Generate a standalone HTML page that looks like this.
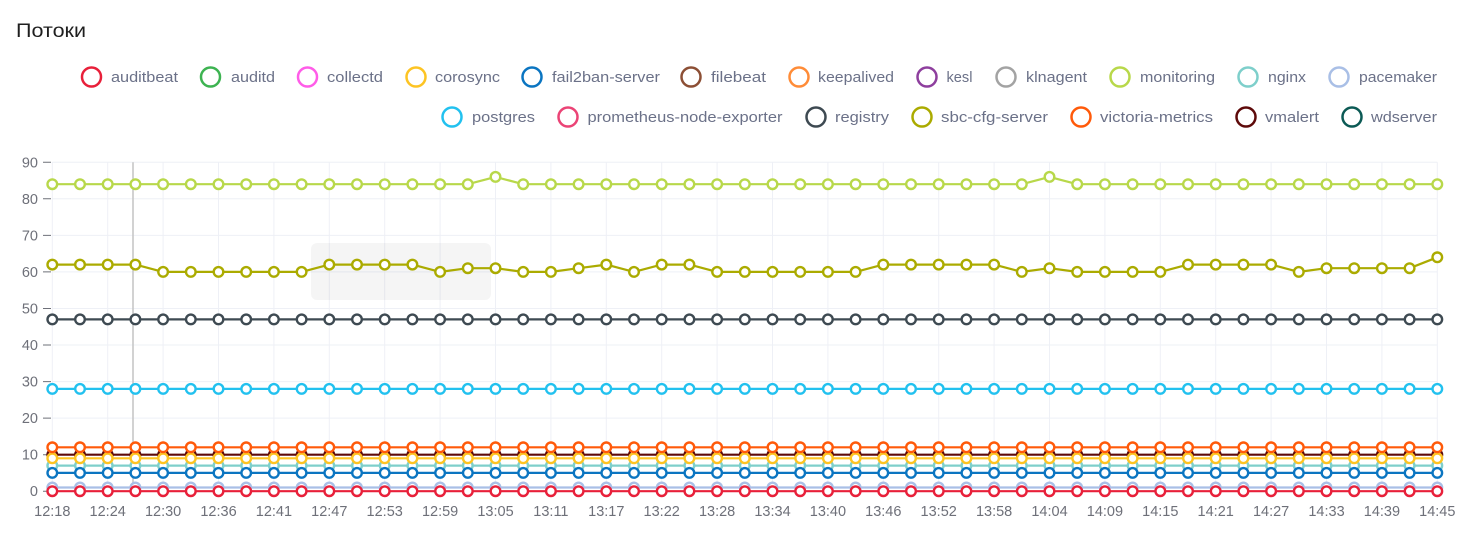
<!DOCTYPE html>
<html>
<head>
<meta charset="utf-8">
<style>
html,body{margin:0;padding:0;background:#fff;}
svg{display:block;}
text{font-family:"Liberation Sans","Noto Sans CJK SC",sans-serif;}
</style>
</head>
<body>
<svg width="1479" height="546" viewBox="0 0 1479 546" xmlns="http://www.w3.org/2000/svg">
<defs>
<marker id="m-red" markerWidth="14" markerHeight="14" refX="7" refY="7" markerUnits="userSpaceOnUse" overflow="visible"><circle cx="7" cy="7" r="4.8" fill="#fff" stroke="#e8203a" stroke-width="2.4"/></marker>
<marker id="m-pace" markerWidth="14" markerHeight="14" refX="7" refY="7" markerUnits="userSpaceOnUse" overflow="visible"><circle cx="7" cy="7" r="4.8" fill="#fff" stroke="#a9bfe6" stroke-width="2.4"/></marker>
<marker id="m-blue" markerWidth="14" markerHeight="14" refX="7" refY="7" markerUnits="userSpaceOnUse" overflow="visible"><circle cx="7" cy="7" r="4.8" fill="#fff" stroke="#0b75c1" stroke-width="2.4"/></marker>
<marker id="m-nginx" markerWidth="14" markerHeight="14" refX="7" refY="7" markerUnits="userSpaceOnUse" overflow="visible"><circle cx="7" cy="7" r="4.8" fill="#fff" stroke="#7ecfcb" stroke-width="2.4"/></marker>
<marker id="m-coro" markerWidth="14" markerHeight="14" refX="7" refY="7" markerUnits="userSpaceOnUse" overflow="visible"><circle cx="7" cy="7" r="4.8" fill="#fff" stroke="#fdc423" stroke-width="2.4"/></marker>
<marker id="m-vmal" markerWidth="14" markerHeight="14" refX="7" refY="7" markerUnits="userSpaceOnUse" overflow="visible"><circle cx="7" cy="7" r="4.8" fill="#fff" stroke="#5e0a0a" stroke-width="2.4"/></marker>
<marker id="m-vict" markerWidth="14" markerHeight="14" refX="7" refY="7" markerUnits="userSpaceOnUse" overflow="visible"><circle cx="7" cy="7" r="4.8" fill="#fff" stroke="#ff5a0a" stroke-width="2.4"/></marker>
<marker id="m-pg" markerWidth="14" markerHeight="14" refX="7" refY="7" markerUnits="userSpaceOnUse" overflow="visible"><circle cx="7" cy="7" r="4.8" fill="#fff" stroke="#22c1ef" stroke-width="2.4"/></marker>
<marker id="m-reg" markerWidth="14" markerHeight="14" refX="7" refY="7" markerUnits="userSpaceOnUse" overflow="visible"><circle cx="7" cy="7" r="4.8" fill="#fff" stroke="#3e4a52" stroke-width="2.4"/></marker>
<marker id="m-sbc" markerWidth="14" markerHeight="14" refX="7" refY="7" markerUnits="userSpaceOnUse" overflow="visible"><circle cx="7" cy="7" r="4.8" fill="#fff" stroke="#abab00" stroke-width="2.4"/></marker>
<marker id="m-mon" markerWidth="14" markerHeight="14" refX="7" refY="7" markerUnits="userSpaceOnUse" overflow="visible"><circle cx="7" cy="7" r="4.8" fill="#fff" stroke="#b8d84a" stroke-width="2.4"/></marker>
</defs>

<rect x="0" y="0" width="1479" height="546" fill="#fff"/>

<!-- title -->
<text x="16" y="37" font-size="19" fill="#1f1f1f" textLength="70" lengthAdjust="spacingAndGlyphs">Потоки</text>

<!-- legend -->
<g fill="none" stroke-width="2.5">
<circle cx="91.5" cy="77" r="9.5" stroke="#e8203a"/>
<circle cx="210.5" cy="77" r="9.5" stroke="#3db351"/>
<circle cx="307.5" cy="77" r="9.5" stroke="#ff5ce8"/>
<circle cx="416" cy="77" r="9.5" stroke="#fdc423"/>
<circle cx="532" cy="77" r="9.5" stroke="#0b75c1"/>
<circle cx="691" cy="77" r="9.5" stroke="#8c4f35"/>
<circle cx="799" cy="77" r="9.5" stroke="#ff8c38"/>
<circle cx="927" cy="77" r="9.5" stroke="#8e3f9e"/>
<circle cx="1006" cy="77" r="9.5" stroke="#a3a3a3"/>
<circle cx="1120" cy="77" r="9.5" stroke="#b8d84a"/>
<circle cx="1248" cy="77" r="9.5" stroke="#7ecfcb"/>
<circle cx="1339" cy="77" r="9.5" stroke="#a9bfe6"/>
<circle cx="452" cy="117" r="9.5" stroke="#22c1ef"/>
<circle cx="568" cy="117" r="9.5" stroke="#eb4476"/>
<circle cx="816" cy="117" r="9.5" stroke="#3e4a52"/>
<circle cx="922" cy="117" r="9.5" stroke="#abab00"/>
<circle cx="1081" cy="117" r="9.5" stroke="#ff5a0a"/>
<circle cx="1246" cy="117" r="9.5" stroke="#5e0a0a"/>
<circle cx="1352" cy="117" r="9.5" stroke="#0c5a55"/>
</g>
<g font-size="14.5" fill="#6b7188">
<text x="111" y="82" textLength="67" lengthAdjust="spacingAndGlyphs">auditbeat</text>
<text x="231" y="82" textLength="44" lengthAdjust="spacingAndGlyphs">auditd</text>
<text x="327" y="82" textLength="56" lengthAdjust="spacingAndGlyphs">collectd</text>
<text x="435" y="82" textLength="65" lengthAdjust="spacingAndGlyphs">corosync</text>
<text x="552" y="82" textLength="108" lengthAdjust="spacingAndGlyphs">fail2ban-server</text>
<text x="711" y="82" textLength="55" lengthAdjust="spacingAndGlyphs">filebeat</text>
<text x="818" y="82" textLength="76" lengthAdjust="spacingAndGlyphs">keepalived</text>
<text x="946.5" y="82" textLength="26" lengthAdjust="spacingAndGlyphs">kesl</text>
<text x="1026" y="82" textLength="61" lengthAdjust="spacingAndGlyphs">klnagent</text>
<text x="1140" y="82" textLength="75" lengthAdjust="spacingAndGlyphs">monitoring</text>
<text x="1268" y="82" textLength="38" lengthAdjust="spacingAndGlyphs">nginx</text>
<text x="1359" y="82" textLength="78" lengthAdjust="spacingAndGlyphs">pacemaker</text>
<text x="472" y="122" textLength="63" lengthAdjust="spacingAndGlyphs">postgres</text>
<text x="587.5" y="122" textLength="195" lengthAdjust="spacingAndGlyphs">prometheus-node-exporter</text>
<text x="835" y="122" textLength="54" lengthAdjust="spacingAndGlyphs">registry</text>
<text x="941" y="122" textLength="107" lengthAdjust="spacingAndGlyphs">sbc-cfg-server</text>
<text x="1100" y="122" textLength="113" lengthAdjust="spacingAndGlyphs">victoria-metrics</text>
<text x="1265" y="122" textLength="54" lengthAdjust="spacingAndGlyphs">vmalert</text>
<text x="1371" y="122" textLength="66" lengthAdjust="spacingAndGlyphs">wdserver</text>
</g>

<!-- grid -->
<g stroke="#eef0f6" stroke-width="1" fill="none">
<path d="M52.3 162.3H1437.3M52.3 198.8H1437.3M52.3 235.4H1437.3M52.3 271.9H1437.3M52.3 308.5H1437.3M52.3 345H1437.3M52.3 381.6H1437.3M52.3 418.1H1437.3M52.3 454.7H1437.3M52.3 491.2H1437.3"/>
<path d="M52.3 162.3V491.2M107.7 162.3V491.2M163.1 162.3V491.2M218.5 162.3V491.2M273.9 162.3V491.2M329.3 162.3V491.2M384.7 162.3V491.2M440.1 162.3V491.2M495.5 162.3V491.2M550.9 162.3V491.2M606.3 162.3V491.2M661.7 162.3V491.2M717.1 162.3V491.2M772.5 162.3V491.2M827.9 162.3V491.2M883.3 162.3V491.2M938.7 162.3V491.2M994.1 162.3V491.2M1049.5 162.3V491.2M1104.9 162.3V491.2M1160.3 162.3V491.2M1215.7 162.3V491.2M1271.1 162.3V491.2M1326.5 162.3V491.2M1381.9 162.3V491.2M1437.3 162.3V491.2"/>
</g>
<!-- y ticks -->
<path d="M43 162.3H51M43 198.8H51M43 235.4H51M43 271.9H51M43 308.5H51M43 345H51M43 381.6H51M43 418.1H51M43 454.7H51M43 491.2H51" stroke="#6e7079" stroke-width="1"/>
<g font-size="14.5" fill="#6e7079" text-anchor="end">
<text x="38" y="167.3">90</text>
<text x="38" y="203.8">80</text>
<text x="38" y="240.4">70</text>
<text x="38" y="276.9">60</text>
<text x="38" y="313.5">50</text>
<text x="38" y="350">40</text>
<text x="38" y="386.6">30</text>
<text x="38" y="423.1">20</text>
<text x="38" y="459.7">10</text>
<text x="38" y="496.2">0</text>
</g>
<g font-size="14.5" fill="#6e7079" text-anchor="middle">
<text x="52.3" y="516">12:18</text>
<text x="107.7" y="516">12:24</text>
<text x="163.1" y="516">12:30</text>
<text x="218.5" y="516">12:36</text>
<text x="273.9" y="516">12:41</text>
<text x="329.3" y="516">12:47</text>
<text x="384.7" y="516">12:53</text>
<text x="440.1" y="516">12:59</text>
<text x="495.5" y="516">13:05</text>
<text x="550.9" y="516">13:11</text>
<text x="606.3" y="516">13:17</text>
<text x="661.7" y="516">13:22</text>
<text x="717.1" y="516">13:28</text>
<text x="772.5" y="516">13:34</text>
<text x="827.9" y="516">13:40</text>
<text x="883.3" y="516">13:46</text>
<text x="938.7" y="516">13:52</text>
<text x="994.1" y="516">13:58</text>
<text x="1049.5" y="516">14:04</text>
<text x="1104.9" y="516">14:09</text>
<text x="1160.3" y="516">14:15</text>
<text x="1215.7" y="516">14:21</text>
<text x="1271.1" y="516">14:27</text>
<text x="1326.5" y="516">14:33</text>
<text x="1381.9" y="516">14:39</text>
<text x="1437.3" y="516">14:45</text>
</g>

<!-- hover box -->
<rect x="311" y="243" width="180" height="57" rx="6" fill="#000" fill-opacity="0.04"/>

<!-- crosshair -->
<line x1="133" y1="162.3" x2="133" y2="491.2" stroke="#c4c4c4" stroke-width="1.5"/>

<!-- series -->
<g fill="none" stroke-width="2.2" stroke-linejoin="round">
<path stroke="#a9bfe6" marker-start="url(#m-pace)" marker-mid="url(#m-pace)" marker-end="url(#m-pace)" d="M52.3 487.5h27.7h27.7h27.7h27.7h27.7h27.7h27.7h27.7h27.7h27.7h27.7h27.7h27.7h27.7h27.7h27.7h27.7h27.7h27.7h27.7h27.7h27.7h27.7h27.7h27.7h27.7h27.7h27.7h27.7h27.7h27.7h27.7h27.7h27.7h27.7h27.7h27.7h27.7h27.7h27.7h27.7h27.7h27.7h27.7h27.7h27.7h27.7h27.7h27.7h27.7"/>
<path stroke="#7ecfcb" marker-start="url(#m-nginx)" marker-mid="url(#m-nginx)" marker-end="url(#m-nginx)" d="M52.3 465.6h27.7h27.7h27.7h27.7h27.7h27.7h27.7h27.7h27.7h27.7h27.7h27.7h27.7h27.7h27.7h27.7h27.7h27.7h27.7h27.7h27.7h27.7h27.7h27.7h27.7h27.7h27.7h27.7h27.7h27.7h27.7h27.7h27.7h27.7h27.7h27.7h27.7h27.7h27.7h27.7h27.7h27.7h27.7h27.7h27.7h27.7h27.7h27.7h27.7h27.7"/>
<path stroke="#5e0a0a" marker-start="url(#m-vmal)" marker-mid="url(#m-vmal)" marker-end="url(#m-vmal)" d="M52.3 454.7h27.7h27.7h27.7h27.7h27.7h27.7h27.7h27.7h27.7h27.7h27.7h27.7h27.7h27.7h27.7h27.7h27.7h27.7h27.7h27.7h27.7h27.7h27.7h27.7h27.7h27.7h27.7h27.7h27.7h27.7h27.7h27.7h27.7h27.7h27.7h27.7h27.7h27.7h27.7h27.7h27.7h27.7h27.7h27.7h27.7h27.7h27.7h27.7h27.7h27.7"/>
<path stroke="#0b75c1" marker-start="url(#m-blue)" marker-mid="url(#m-blue)" marker-end="url(#m-blue)" d="M52.3 472.9h27.7h27.7h27.7h27.7h27.7h27.7h27.7h27.7h27.7h27.7h27.7h27.7h27.7h27.7h27.7h27.7h27.7h27.7h27.7h27.7h27.7h27.7h27.7h27.7h27.7h27.7h27.7h27.7h27.7h27.7h27.7h27.7h27.7h27.7h27.7h27.7h27.7h27.7h27.7h27.7h27.7h27.7h27.7h27.7h27.7h27.7h27.7h27.7h27.7h27.7"/>
<path stroke="#fdc423" marker-start="url(#m-coro)" marker-mid="url(#m-coro)" marker-end="url(#m-coro)" d="M52.3 458.3h27.7h27.7h27.7h27.7h27.7h27.7h27.7h27.7h27.7h27.7h27.7h27.7h27.7h27.7h27.7h27.7h27.7h27.7h27.7h27.7h27.7h27.7h27.7h27.7h27.7h27.7h27.7h27.7h27.7h27.7h27.7h27.7h27.7h27.7h27.7h27.7h27.7h27.7h27.7h27.7h27.7h27.7h27.7h27.7h27.7h27.7h27.7h27.7h27.7h27.7"/>
<path stroke="#ff5a0a" marker-start="url(#m-vict)" marker-mid="url(#m-vict)" marker-end="url(#m-vict)" d="M52.3 447.3h27.7h27.7h27.7h27.7h27.7h27.7h27.7h27.7h27.7h27.7h27.7h27.7h27.7h27.7h27.7h27.7h27.7h27.7h27.7h27.7h27.7h27.7h27.7h27.7h27.7h27.7h27.7h27.7h27.7h27.7h27.7h27.7h27.7h27.7h27.7h27.7h27.7h27.7h27.7h27.7h27.7h27.7h27.7h27.7h27.7h27.7h27.7h27.7h27.7h27.7"/>
<path stroke="#e8203a" marker-start="url(#m-red)" marker-mid="url(#m-red)" marker-end="url(#m-red)" d="M52.3 491.2h27.7h27.7h27.7h27.7h27.7h27.7h27.7h27.7h27.7h27.7h27.7h27.7h27.7h27.7h27.7h27.7h27.7h27.7h27.7h27.7h27.7h27.7h27.7h27.7h27.7h27.7h27.7h27.7h27.7h27.7h27.7h27.7h27.7h27.7h27.7h27.7h27.7h27.7h27.7h27.7h27.7h27.7h27.7h27.7h27.7h27.7h27.7h27.7h27.7h27.7"/>
<path stroke="#22c1ef" marker-start="url(#m-pg)" marker-mid="url(#m-pg)" marker-end="url(#m-pg)" d="M52.3 388.9h27.7h27.7h27.7h27.7h27.7h27.7h27.7h27.7h27.7h27.7h27.7h27.7h27.7h27.7h27.7h27.7h27.7h27.7h27.7h27.7h27.7h27.7h27.7h27.7h27.7h27.7h27.7h27.7h27.7h27.7h27.7h27.7h27.7h27.7h27.7h27.7h27.7h27.7h27.7h27.7h27.7h27.7h27.7h27.7h27.7h27.7h27.7h27.7h27.7h27.7"/>
<path stroke="#3e4a52" marker-start="url(#m-reg)" marker-mid="url(#m-reg)" marker-end="url(#m-reg)" d="M52.3 319.4h27.7h27.7h27.7h27.7h27.7h27.7h27.7h27.7h27.7h27.7h27.7h27.7h27.7h27.7h27.7h27.7h27.7h27.7h27.7h27.7h27.7h27.7h27.7h27.7h27.7h27.7h27.7h27.7h27.7h27.7h27.7h27.7h27.7h27.7h27.7h27.7h27.7h27.7h27.7h27.7h27.7h27.7h27.7h27.7h27.7h27.7h27.7h27.7h27.7h27.7"/>
<polyline stroke="#abab00" marker-start="url(#m-sbc)" marker-mid="url(#m-sbc)" marker-end="url(#m-sbc)" points="52.3,264.6 80,264.6 107.7,264.6 135.4,264.6 163.1,271.9 190.8,271.9 218.5,271.9 246.2,271.9 273.9,271.9 301.6,271.9 329.3,264.6 357,264.6 384.7,264.6 412.4,264.6 440.1,271.9 467.8,268.2 495.5,268.2 523.2,271.9 550.9,271.9 578.6,268.2 606.3,264.6 634,271.9 661.7,264.6 689.4,264.6 717.1,271.9 744.8,271.9 772.5,271.9 800.2,271.9 827.9,271.9 855.6,271.9 883.3,264.6 911,264.6 938.7,264.6 966.4,264.6 994.1,264.6 1021.8,271.9 1049.5,268.2 1077.2,271.9 1104.9,271.9 1132.6,271.9 1160.3,271.9 1188,264.6 1215.7,264.6 1243.4,264.6 1271.1,264.6 1298.8,271.9 1326.5,268.2 1354.2,268.2 1381.9,268.2 1409.6,268.2 1437.3,257.3"/>
<path stroke="#b8d84a" marker-start="url(#m-mon)" marker-mid="url(#m-mon)" marker-end="url(#m-mon)" d="M52.3 184.2h27.7h27.7h27.7h27.7h27.7h27.7h27.7h27.7h27.7h27.7h27.7h27.7h27.7h27.7h27.7l27.7 -7.3l27.7 7.3h27.7h27.7h27.7h27.7h27.7h27.7h27.7h27.7h27.7h27.7h27.7h27.7h27.7h27.7h27.7h27.7h27.7h27.7l27.7 -7.3l27.7 7.3h27.7h27.7h27.7h27.7h27.7h27.7h27.7h27.7h27.7h27.7h27.7h27.7h27.7"/>
</g>
</svg>
</body>
</html>
